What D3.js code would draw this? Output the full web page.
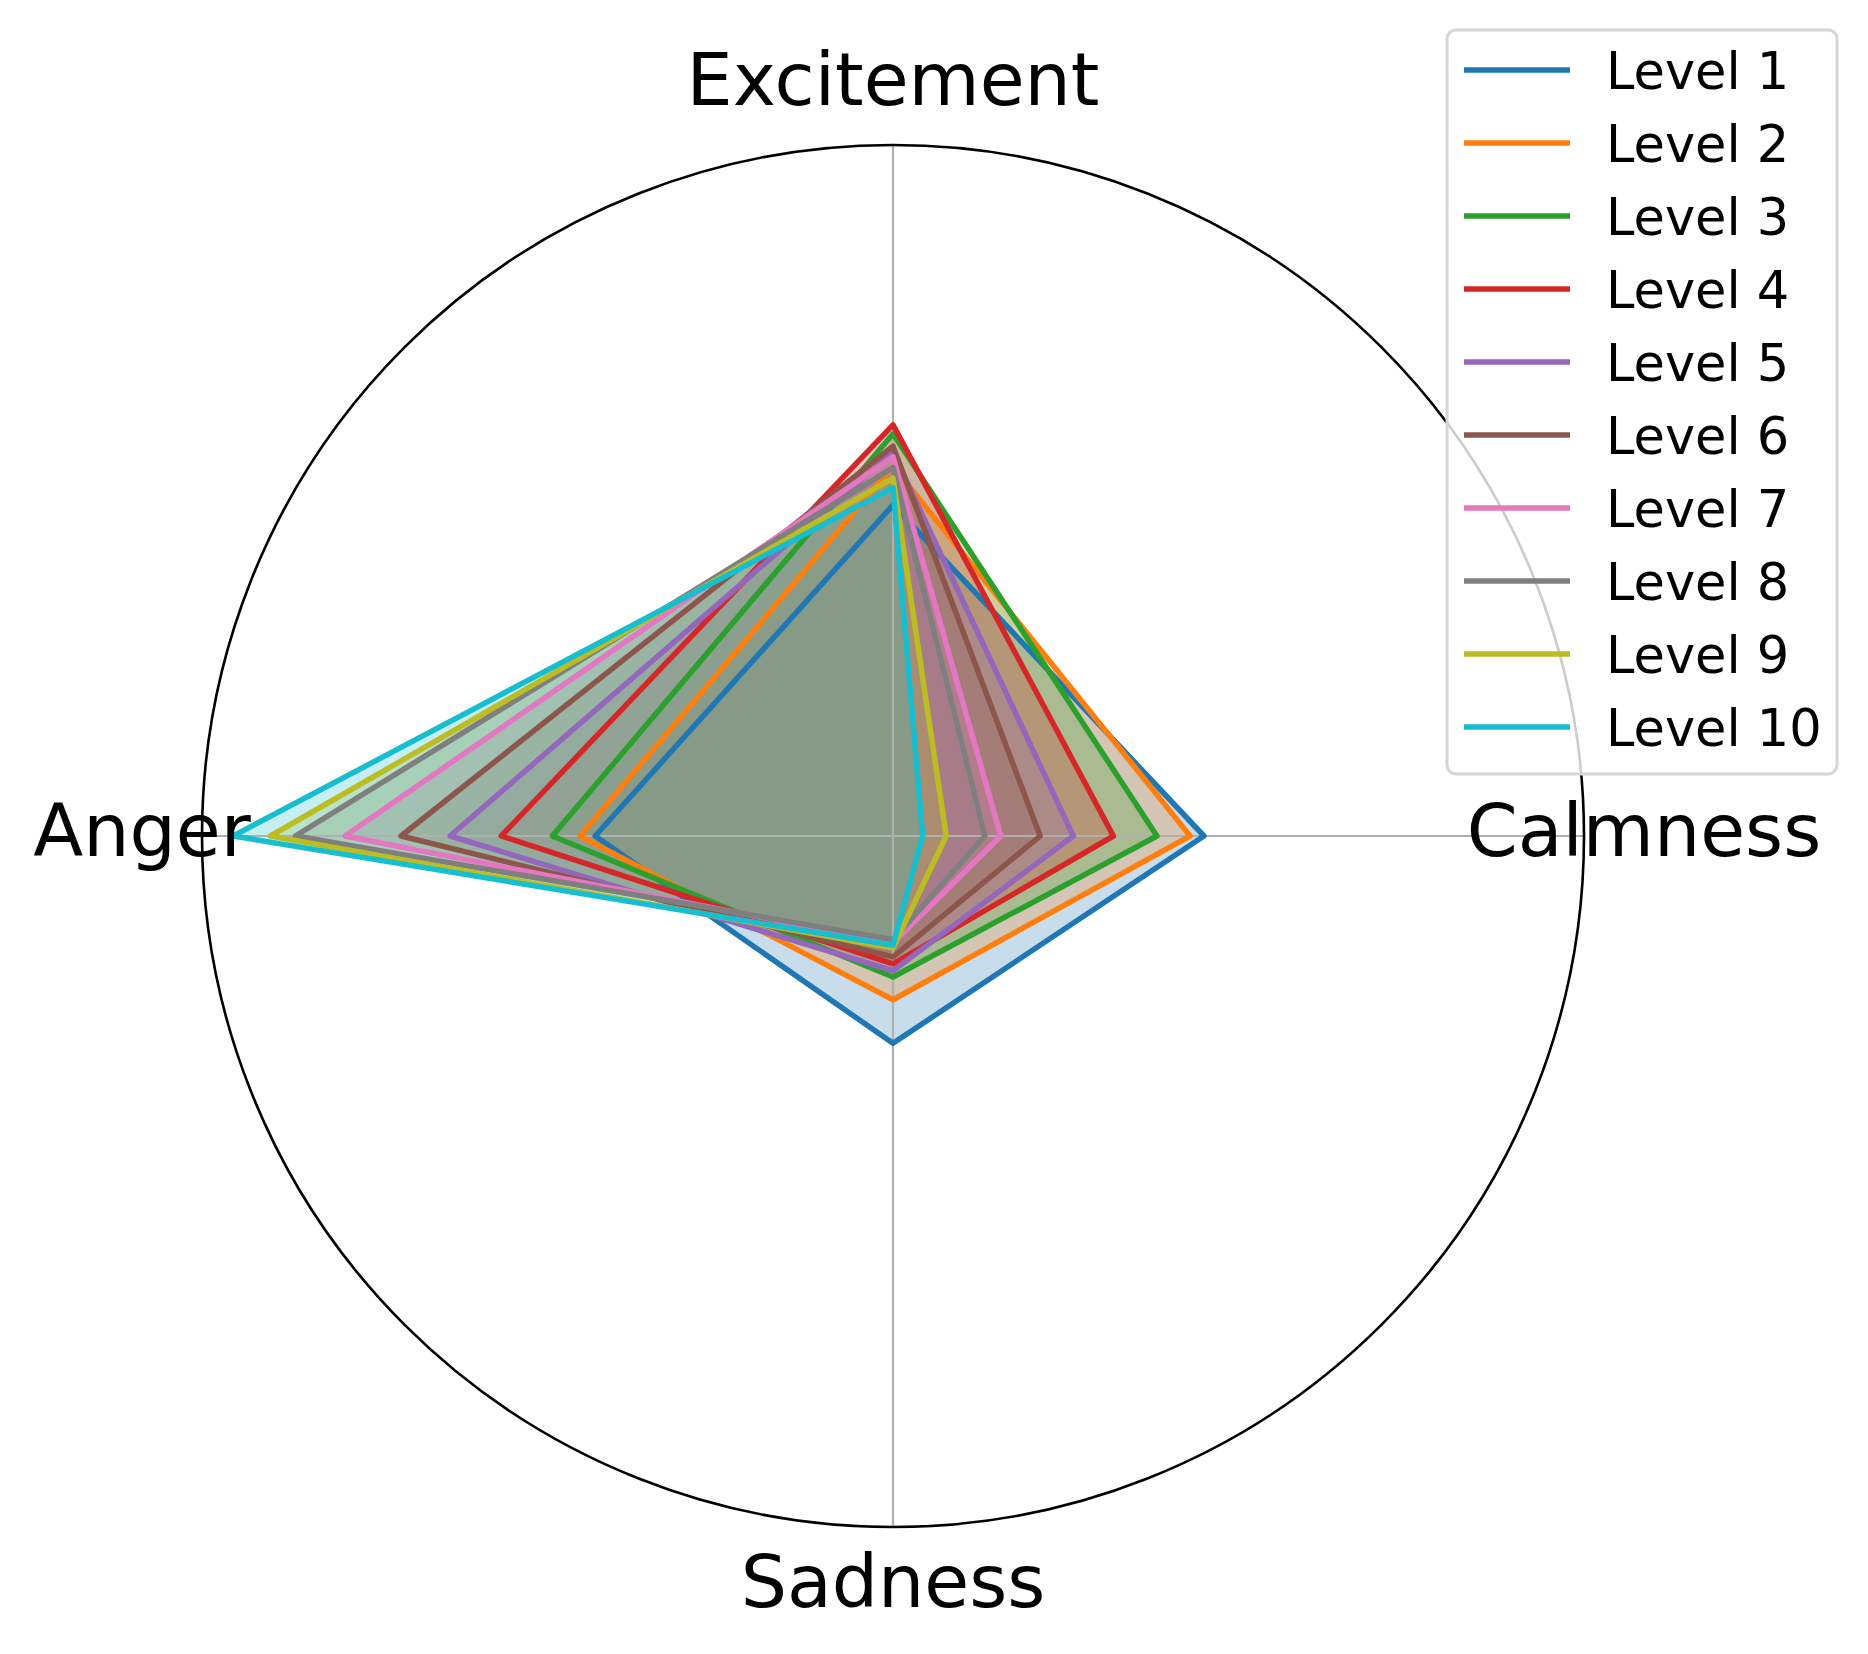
<!doctype html>
<html lang="en">
  <head>
    <meta charset="utf-8">
    <title>Emotion levels radar</title>
    <script src="https://d3js.org/d3.v7.min.js"></script>
    <style>
    body { margin: 0; background: #fff; }
    text { font-family: "DejaVu Sans", sans-serif; fill: #000; }
    </style>
  </head>

  <body>
    <div id="chart">
      <svg width="1868" height="1654"></svg>
    </div>

    <script>
      // axes, clockwise from the top
      var categories = ['Excitement', 'Calmness', 'Sadness', 'Anger'];
      var levels = ['Level 1', 'Level 2', 'Level 3', 'Level 4', 'Level 5',
                    'Level 6', 'Level 7', 'Level 8', 'Level 9', 'Level 10'];

      // values per level, in the same order as categories
      var level1  = [4.79, 4.50, 3.00, 4.31];
      var level2  = [5.35, 4.30, 2.37, 4.53];
      var level3  = [5.82, 3.82, 2.04, 4.93];
      var level4  = [5.95, 3.19, 1.85, 5.67];
      var level5  = [5.55, 2.61, 1.95, 6.41];
      var level6  = [5.64, 2.13, 1.75, 7.12];
      var level7  = [5.49, 1.56, 1.55, 7.93];
      var level8  = [5.33, 1.33, 1.50, 8.65];
      var level9  = [5.18, 0.77, 1.62, 9.01];
      var level10 = [5.04, 0.43, 1.58, 9.55];
      var series = [level1, level2, level3, level4, level5,
                    level6, level7, level8, level9, level10];

      var colors = ['#1f77b4', '#ff7f0e', '#2ca02c', '#d62728', '#9467bd',
                    '#8c564b', '#e377c2', '#7f7f7f', '#bcbd22', '#17becf'];

      var svg = d3.select('svg');
      var cx = 893, cy = 836, R = 691;

      var angle = d3.scalePoint()
        .domain(categories)
        .range([0, 2 * Math.PI * 3 / 4]);
      var radius = d3.scaleLinear().domain([0, 10]).range([0, R]);

      var g = svg.append('g')
        .attr('transform', 'translate(' + cx + ',' + cy + ')');

      var radar = d3.lineRadial()
        .angle(function(d, i){ return angle(categories[i]); })
        .radius(function(d){ return radius(d); })
        .curve(d3.curveLinearClosed);

      // fills sit below everything else
      g.selectAll('path.fill')
        .data(series)
        .enter().append('path')
          .attr('class', 'fill')
          .attr('d', radar)
          .attr('fill', function(d, i){ return colors[i]; })
          .attr('fill-opacity', 0.25)
          .attr('stroke', 'none');

      // spokes
      g.selectAll('line.spoke')
        .data(categories)
        .enter().append('line')
          .attr('class', 'spoke')
          .attr('x1', 0).attr('y1', 0)
          .attr('x2', function(c){ return R * Math.sin(angle(c)); })
          .attr('y2', function(c){ return -R * Math.cos(angle(c)); })
          .attr('stroke', '#b0b0b0')
          .attr('stroke-width', 2.2);

      // outlines
      g.selectAll('path.outline')
        .data(series)
        .enter().append('path')
          .attr('class', 'outline')
          .attr('d', radar)
          .attr('fill', 'none')
          .attr('stroke', function(d, i){ return colors[i]; })
          .attr('stroke-width', 5.5)
          .attr('stroke-linejoin', 'round');

      // outer circle
      g.append('circle')
        .attr('r', R)
        .attr('fill', 'none')
        .attr('stroke', '#000')
        .attr('stroke-width', 2.6);

      // category labels
      var labelR = 751;
      g.selectAll('text.cat')
        .data(categories)
        .enter().append('text')
          .attr('class', 'cat')
          .attr('x', function(c){ return labelR * Math.sin(angle(c)); })
          .attr('y', function(c){ return -labelR * Math.cos(angle(c)); })
          .attr('dy', 20)
          .attr('text-anchor', 'middle')
          .style('font-size', '73px')
          .text(function(c){ return c; });

      // legend
      var legend = svg.append('g');
      legend.append('rect')
        .attr('x', 1447).attr('y', 30)
        .attr('width', 390).attr('height', 744)
        .attr('rx', 9)
        .attr('fill', '#fff')
        .attr('fill-opacity', 0.8)
        .attr('stroke', '#d6d6d6')
        .attr('stroke-width', 3);

      var rows = legend.selectAll('g.row')
        .data(levels)
        .enter().append('g')
          .attr('class', 'row')
          .attr('transform', function(d, i){ return 'translate(0,' + (70 + i * 73) + ')'; });
      rows.append('line')
        .attr('x1', 1464).attr('x2', 1570)
        .attr('stroke', function(d, i){ return colors[i]; })
        .attr('stroke-width', 5.5);
      rows.append('text')
        .attr('x', 1606)
        .attr('dy', 19)
        .style('font-size', '51px')
        .text(function(d){ return d; });
    </script>
  </body>
</html>
